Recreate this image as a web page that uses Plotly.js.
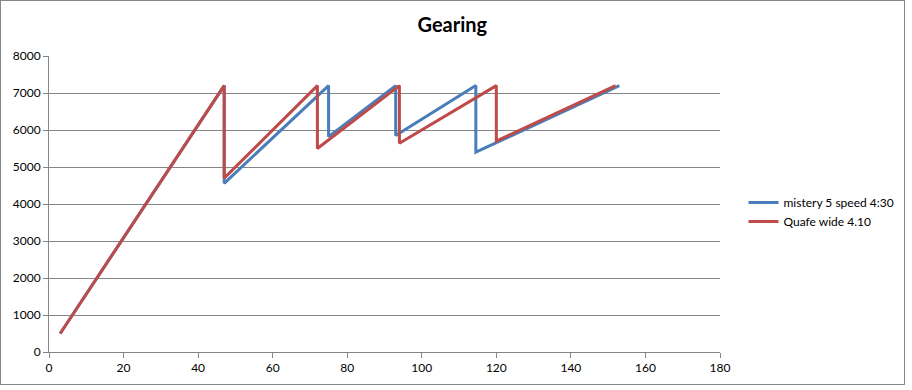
<!DOCTYPE html>
<html>
<head>
<meta charset="utf-8">
<script src="https://cdn.plot.ly/plotly-3.0.1.min.js"></script>
<style>
  body { margin: 0; padding: 0; background: #fff; }
  #chart { width: 912px; height: 390px; }
  #frame { position: absolute; left: 0; top: 0; width: 903px; height: 383px; border: 1px solid #868686; pointer-events: none; z-index: 10; }
</style>
</head>
<body>
<div id="chart"></div>
<div id="frame"></div>
<script>
const seriesNames = ["mistery 5 speed 4:30", "Quafe wide 4.10"];
const misteryX = [3, 47, 47, 75, 75, 93, 93, 114.5, 114.5, 153];
const misteryY = [500, 7200, 4560, 7200, 5820, 7200, 5850, 7200, 5400, 7200];
const quafeX = [3, 47, 47, 72, 72, 94, 94, 120, 120, 152];
const quafeY = [500, 7200, 4700, 7200, 5500, 7200, 5640, 7200, 5700, 7200];
const xTicks = [0, 20, 40, 60, 80, 100, 120, 140, 160, 180];
const yTicks = [0, 1000, 2000, 3000, 4000, 5000, 6000, 7000, 8000];

const fontFam = "Lato, 'Open Sans', sans-serif";
const traces = [
  { x: misteryX, y: misteryY, name: seriesNames[0], type: 'scatter', mode: 'lines',
    line: { color: '#4A7EBB', width: 3 } },
  { x: quafeX, y: quafeY, name: seriesNames[1], type: 'scatter', mode: 'lines',
    line: { color: '#BE4B48', width: 3 } }
];

const layout = {
  width: 912, height: 390,
  margin: { l: 49, r: 192, t: 56, b: 38 },
  paper_bgcolor: '#fff', plot_bgcolor: '#fff',
  title: { text: '<b>Gearing</b>', font: { family: fontFam, size: 20, color: '#000' },
           xref: 'container', x: 0.496, xanchor: 'center', yref: 'container', y: 0.935, yanchor: 'middle' },
  font: { family: fontFam, size: 12, color: '#000' },
  xaxis: { range: [0, 180], tickvals: xTicks, showgrid: false, zeroline: false,
           showline: true, linecolor: '#868686', linewidth: 1,
           ticks: 'outside', ticklen: 5, tickcolor: '#868686', tickfont: { size: 12 } },
  yaxis: { range: [0, 8000], tickvals: yTicks, showgrid: true, gridcolor: '#868686', gridwidth: 1,
           zeroline: false, showline: true, linecolor: '#868686', linewidth: 1,
           ticks: 'outside', ticklen: 5, tickcolor: '#868686', tickfont: { size: 12 } },
  showlegend: true,
  legend: { x: 1.035, xanchor: 'left', y: 0.473, yanchor: 'middle', font: { size: 12 },
            bgcolor: 'rgba(0,0,0,0)', tracegroupgap: 0 }
};

Plotly.newPlot('chart', traces, layout, { displayModeBar: false, staticPlot: true });
</script>
</body>
</html>
